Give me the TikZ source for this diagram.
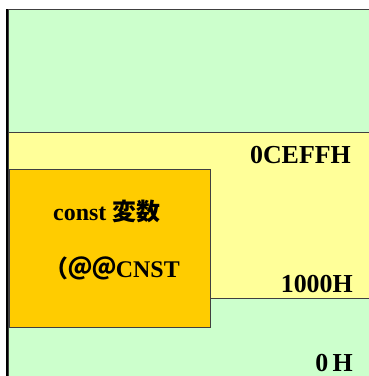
\documentclass[tikz,border=0pt]{standalone}
\usepackage{fontspec}
\setmainfont{Liberation Serif}
\newfontfamily\cjk{Noto Sans CJK JP}
\definecolor{memgreen}{HTML}{CCFFCC}
\definecolor{memyellow}{HTML}{FFFF99}
\definecolor{memorange}{HTML}{FFCC00}
\begin{document}
\begin{tikzpicture}[x=1bp,y=-1bp,
  region/.style={draw=black!75,line width=0.9bp},
  addr/.style={font=\bfseries\fontsize{26}{28}\selectfont,inner sep=0pt,anchor=base east},
  boxtext/.style={font=\bfseries\fontsize{24}{26}\selectfont,inner sep=0pt,anchor=base west}]
\useasboundingbox (0,0) rectangle (369,376);
\clip (0,0) rectangle (369,376);
\fill[white] (0,0) rectangle (369,376);
% regions
\draw[region,fill=memgreen] (8,9) rectangle (375,132);
\draw[region,fill=memyellow] (8,132) rectangle (375,298);
\draw[region,fill=memgreen] (8,298) rectangle (375,385);
\draw[region,fill=memorange] (9,169) rectangle (210,327);
\coordinate (lefttop) at (7,9);
\coordinate (leftbot) at (7,380);
\draw[line width=2bp,black] (lefttop) -- (leftbot);
% labels
\node[addr] (ceffh) at (351,163) {0CEFFH};
\node[addr] (k1000) at (353,292) {1000H};
\node[addr] (zero) at (353,371) {0\,H};
\node[boxtext] (const) at (53,220) {const {\cjk\bfseries 変数}};
\node[boxtext] (cnst) at (44,277) {{\cjk （＠＠}CNST};
\end{tikzpicture}
\end{document}
